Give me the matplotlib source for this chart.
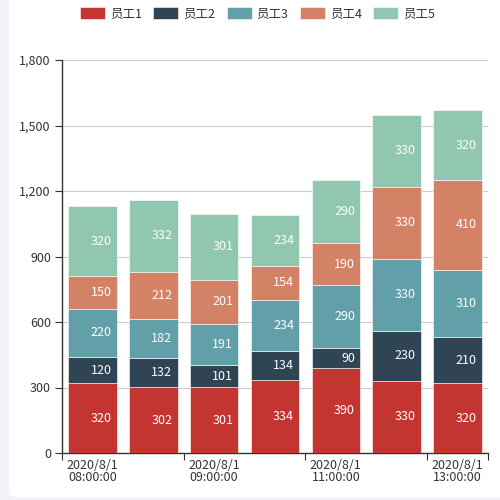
import matplotlib.pyplot as plt
import numpy as np
from matplotlib.patches import FancyBboxPatch

plt.rcParams['font.family'] = ['Noto Sans CJK SC', 'DejaVu Sans']

times = ["2020/8/1\n08:00:00", "2020/8/1\n08:30:00", "2020/8/1\n09:00:00",
         "2020/8/1\n10:00:00", "2020/8/1\n11:00:00", "2020/8/1\n12:00:00",
         "2020/8/1\n13:00:00"]
names = ["员工1", "员工2", "员工3", "员工4", "员工5"]
emp1 = [320, 302, 301, 334, 390, 330, 320]
emp2 = [120, 132, 101, 134, 90, 230, 210]
emp3 = [220, 182, 191, 234, 290, 330, 310]
emp4 = [150, 212, 201, 154, 190, 330, 410]
emp5 = [320, 332, 301, 234, 290, 330, 320]
colors = ["#c23531", "#2f4554", "#61a0a8", "#d48265", "#91c7ae"]

series = [emp1, emp2, emp3, emp4, emp5]

fig = plt.figure(figsize=(5, 5), dpi=100)
fig.patch.set_facecolor("#f2f3f8")
card = FancyBboxPatch((0.018, 0.006), 1.2, 1.2, boxstyle="round,pad=0,rounding_size=0.012",
                      transform=fig.transFigure, facecolor="white", edgecolor="none", zorder=-5)
fig.patches.append(card)

ax = fig.add_axes([0.124, 0.094, 0.852, 0.786])
ax.set_facecolor("none")

x = np.arange(len(times))
bottom = np.zeros(len(times))
handles = []
for vals, name, c in zip(series, names, colors):
    vals = np.array(vals)
    bars = ax.bar(x, vals, 0.8, bottom=bottom, color=c, label=name,
                  edgecolor="white", linewidth=0.4, zorder=3)
    handles.append(bars)
    for xi, b, v in zip(x, bottom, vals):
        ax.annotate(str(v), xy=(xi + 0.4, b + v / 2), xytext=(-3.8, 0),
                    textcoords="offset points", ha="right", va="center",
                    color="white", fontsize=9, zorder=4)
    bottom += vals

ax.set_xlim(-0.5, 6.5)
ax.set_ylim(0, 1800)
ax.set_yticks(np.arange(0, 1801, 300))
ax.set_yticklabels([f"{v:,}" for v in range(0, 1801, 300)])
ax.yaxis.grid(True, color="#cccccc", linewidth=0.8, zorder=0)

ax.set_xticks([-0.5, 1.5, 3.5, 5.5, 6.5])
ax.set_xticklabels([])
ax.set_xticks(x[::2], minor=True)
ax.set_xticklabels(times[::2], minor=True, linespacing=0.95)
ax.tick_params(axis="x", which="minor", length=0, pad=4, labelsize=9, labelcolor="#333333")
ax.tick_params(axis="x", which="major", length=5, color="#333333")
ax.tick_params(axis="y", length=5, color="#333333", labelsize=9, labelcolor="#333333", pad=3)

for s in ["top", "right"]:
    ax.spines[s].set_visible(False)
for s in ["left", "bottom"]:
    ax.spines[s].set_color("#333333")
    ax.spines[s].set_linewidth(1)

fig.legend(handles=handles, labels=names, loc="upper center", bbox_to_anchor=(0.515, 1.0),
           ncol=5, frameon=False, handlelength=2.0, handleheight=1.1, handletextpad=0.4,
           columnspacing=0.9, fontsize=9, labelcolor="#333333", borderaxespad=0.15)

fig.savefig("out.png", dpi=100)
